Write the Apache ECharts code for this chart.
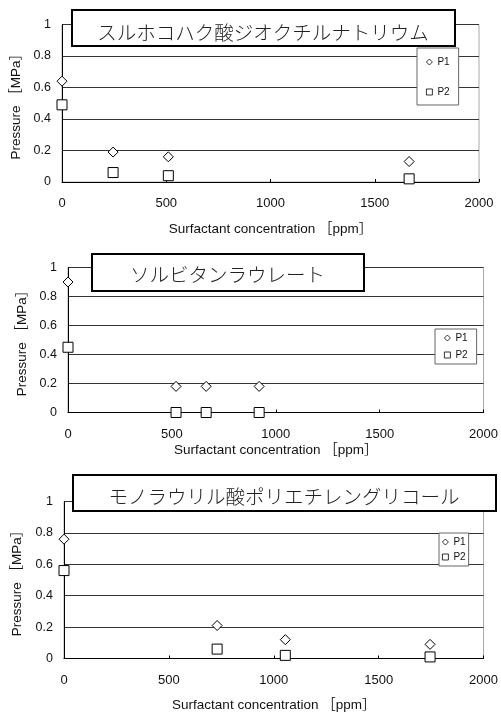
<!DOCTYPE html>
<html>
<head>
<meta charset="utf-8">
<script src="https://cdn.jsdelivr.net/npm/echarts@6/dist/echarts.min.js"></script>
<style>
  html, body { margin: 0; padding: 0; background: #fff; }
  #chart { width: 501px; height: 713px; }
</style>
</head>
<body>
<div id="chart"></div>
<script>
// Surfactant names (one panel each)
const panelTitles = [
  'スルホコハク酸ジオクチルナトリウム',
  'ソルビタンラウレート',
  'モノラウリル酸ポリエチレングリコール'
];
const seriesNames = ['P1', 'P2'];

// Panel 1: dioctyl sodium sulfosuccinate
const conc1 = [0, 245, 510, 1665];
const p1Panel1 = [0.64, 0.19, 0.16, 0.13];
const p2Panel1 = [0.49, 0.06, 0.04, 0.02];

// Panel 2: sorbitan laurate
const conc2 = [0, 520, 665, 920];
const p1Panel2 = [0.90, 0.18, 0.18, 0.18];
const p2Panel2 = [0.45, 0, 0, 0];

// Panel 3: polyethylene glycol monolaurate
const conc3 = [0, 730, 1055, 1745];
const p1Panel3 = [0.76, 0.21, 0.12, 0.09];
const p2Panel3 = [0.56, 0.06, 0.02, 0.01];

const xMin = 0, xMax = 2000, xStep = 500;
const yMin = 0, yMax = 1, yStep = 0.2;
const xName = 'Surfactant concentration ［ppm］';
const yName = 'Pressure ［MPa］';

const panels = [
  { x: conc1, p1: p1Panel1, p2: p2Panel1 },
  { x: conc2, p1: p1Panel2, p2: p2Panel2 },
  { x: conc3, p1: p1Panel3, p2: p2Panel3 }
];

// Layout of each panel
const layout = [
  { grid: { left: 62, top: 24.5, width: 417, height: 157.5 }, xGap: 41, yGap: 38,
    box: { x: 72, y: 10, w: 383, h: 36, ty: 33 },
    legend: { left: 417, top: 48, pad: [9, 9, 8, 9], gap: 20 } },
  { grid: { left: 68, top: 267.5, width: 418.5, height: 145 }, xGap: 31, yGap: 37,
    box: { x: 92, y: 254, w: 272, h: 37, ty: 274.5 },
    legend: { left: 435, top: 329, pad: [4, 9, 4, 9], gap: 7 } },
  { grid: { left: 64, top: 501.5, width: 420, height: 158 }, xGap: 40, yGap: 40,
    box: { x: 73, y: 475, w: 423, h: 36, ty: 496.5 },
    legend: { left: 439, top: 533, pad: [4, 3, 4, 3], gap: 5 } }
];

const latin = '"Liberation Sans", Arial, "Noto Sans CJK JP", sans-serif';
const cjk = '"Noto Sans CJK JP", sans-serif';
const plain = v => String(v);

const grids = [], xAxes = [], yAxes = [], series = [], legends = [], graphics = [];

layout.forEach((L, i) => {
  grids.push(Object.assign({
    show: true, borderColor: '#aaa', borderWidth: 1, backgroundColor: 'transparent',
    containLabel: false
  }, L.grid));

  xAxes.push({
    type: 'value', gridIndex: i, min: xMin, max: xMax, interval: xStep,
    name: xName, nameLocation: 'middle', nameGap: L.xGap,
    nameTextStyle: { fontFamily: latin, fontSize: 13.5, color: '#111' },
    axisLine: { show: true, onZero: false, lineStyle: { color: '#000', width: 1 } },
    axisTick: { show: true, inside: true, length: 3, lineStyle: { color: '#000' } },
    axisLabel: { fontFamily: latin, fontSize: 13, color: '#111', margin: 15, formatter: plain },
    splitLine: { show: false }
  });

  yAxes.push({
    type: 'value', gridIndex: i, min: yMin, max: yMax, interval: yStep,
    name: yName, nameLocation: 'middle', nameGap: L.yGap, nameRotate: 90,
    nameTextStyle: { fontFamily: latin, fontSize: 13.5, color: '#111' },
    axisLine: { show: true, lineStyle: { color: '#000', width: 1 } },
    axisTick: { show: false },
    axisLabel: { fontFamily: latin, fontSize: 12.5, color: '#111', margin: 11, formatter: plain },
    splitLine: { show: true, lineStyle: { color: '#333', width: 1 } }
  });

  const P = panels[i];
  series.push({
    name: seriesNames[0], type: 'scatter', xAxisIndex: i, yAxisIndex: i,
    symbol: 'diamond', symbolSize: 10, clip: false, z: 5,
    itemStyle: { color: '#fff', borderColor: '#000', borderWidth: 1, opacity: 1 },
    data: P.x.map((v, k) => [v, P.p1[k]])
  });
  series.push({
    name: seriesNames[1], type: 'scatter', xAxisIndex: i, yAxisIndex: i,
    symbol: 'rect', symbolSize: 10, clip: false, z: 5,
    itemStyle: { color: '#fff', borderColor: '#000', borderWidth: 1, opacity: 1 },
    data: P.x.map((v, k) => [v, P.p2[k]])
  });

  legends.push({
    data: seriesNames, orient: 'vertical',
    left: L.legend.left, top: L.legend.top, padding: L.legend.pad,
    itemGap: L.legend.gap, itemWidth: 6, itemHeight: 6,
    backgroundColor: '#fff', borderColor: '#666', borderWidth: 1,
    selectedMode: false, z: 20,
    itemStyle: { color: '#fff', borderColor: '#000', borderWidth: 0.8 },
    textStyle: { fontFamily: latin, fontSize: 10, color: '#111', padding: [4, 0, 0, 0] }
  });

  graphics.push({
    type: 'rect', z: 30,
    shape: { x: L.box.x, y: L.box.y, width: L.box.w, height: L.box.h },
    style: { fill: '#fff', stroke: '#000', lineWidth: 2 }
  });
  graphics.push({
    type: 'text', z: 31,
    x: L.box.x + L.box.w / 2 - 0.5, y: L.box.ty,
    style: {
      text: panelTitles[i], fontFamily: cjk, fontSize: 19.5, fontWeight: 300,
      fill: '#222', align: 'center', verticalAlign: 'middle'
    }
  });
});

const chart = echarts.init(document.getElementById('chart'), null, { renderer: 'canvas' });
chart.setOption({
  backgroundColor: '#fff',
  animation: false,
  grid: grids,
  xAxis: xAxes,
  yAxis: yAxes,
  legend: legends,
  series: series,
  graphic: graphics
});
</script>
</body>
</html>
